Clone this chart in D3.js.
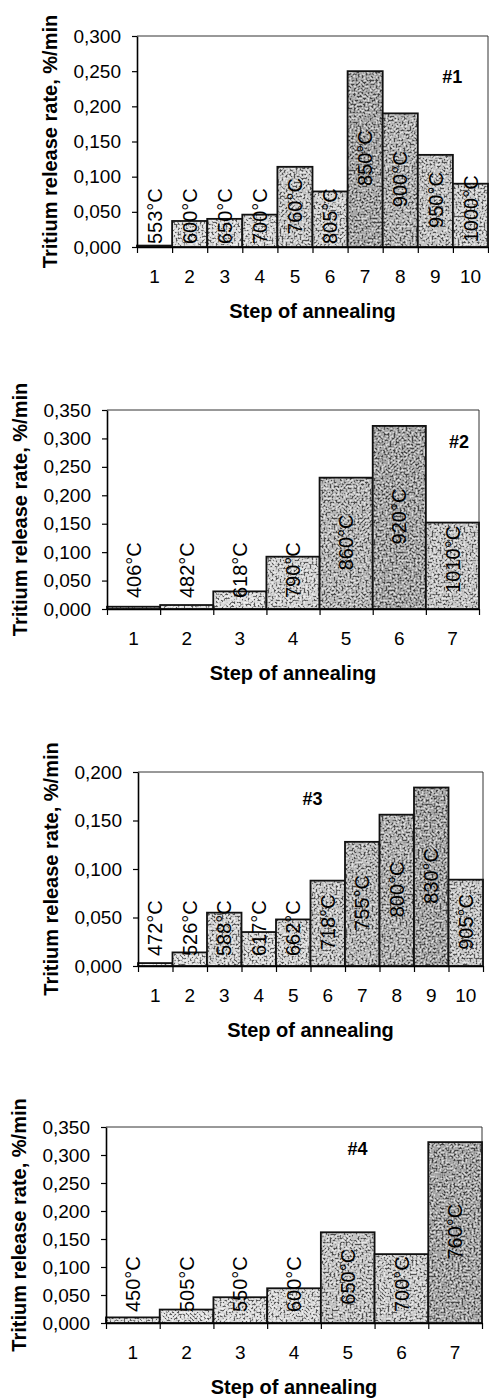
<!DOCTYPE html>
<html>
<head>
<meta charset="utf-8">
<script src="https://cdn.jsdelivr.net/npm/d3@7"></script>
<style>
  body { margin: 0; background: #fff; }
  svg { display: block; font-family: "Liberation Sans", Arial, sans-serif; }
</style>
</head>
<body>
<svg id="chart" width="489" height="1398"></svg>
<script>
// values
const steps1 = [1, 2, 3, 4, 5, 6, 7, 8, 9, 10];
const rate1 = [0.002, 0.037, 0.040, 0.046, 0.114, 0.079, 0.250, 0.190, 0.131, 0.090];
const temp1 = [553, 600, 650, 700, 760, 805, 850, 900, 950, 1000];
const yTicks1 = [0, 0.05, 0.10, 0.15, 0.20, 0.25, 0.30];

const steps2 = [1, 2, 3, 4, 5, 6, 7];
const rate2 = [0.004, 0.007, 0.031, 0.092, 0.231, 0.322, 0.152];
const temp2 = [406, 482, 618, 790, 860, 920, 1010];
const yTicks2 = [0, 0.05, 0.10, 0.15, 0.20, 0.25, 0.30, 0.35];

const steps3 = [1, 2, 3, 4, 5, 6, 7, 8, 9, 10];
const rate3 = [0.003, 0.014, 0.055, 0.035, 0.048, 0.088, 0.128, 0.156, 0.184, 0.089];
const temp3 = [472, 526, 588, 617, 662, 718, 755, 800, 830, 905];
const yTicks3 = [0, 0.05, 0.10, 0.15, 0.20];

const steps4 = [1, 2, 3, 4, 5, 6, 7];
const rate4 = [0.010, 0.024, 0.046, 0.062, 0.162, 0.123, 0.323];
const temp4 = [450, 505, 550, 600, 650, 700, 760];
const yTicks4 = [0, 0.05, 0.10, 0.15, 0.20, 0.25, 0.30, 0.35];

const yTitle = 'Tritium release rate, %/min';
const xTitle = 'Step of annealing';

// layout of the four stacked plots
const panels = [
  { tag: '#1', steps: steps1, rate: rate1, temp: temp1, ticks: yTicks1,
    box: { left: 137, right: 488, top: 36, bottom: 247 }, tagFx: 0.898, tagDy: 47, gap: 3 },
  { tag: '#2', steps: steps2, rate: rate2, temp: temp2, ticks: yTicks2,
    box: { left: 107, right: 479, top: 410, bottom: 609 }, tagFx: 0.946, tagDy: 38, gap: 11 },
  { tag: '#3', steps: steps3, rate: rate3, temp: temp3, ticks: yTicks3,
    box: { left: 138, right: 483, top: 772, bottom: 966 }, tagFx: 0.506, tagDy: 33, gap: 10 },
  { tag: '#4', steps: steps4, rate: rate4, temp: temp4, ticks: yTicks4,
    box: { left: 106, right: 482, top: 1127, bottom: 1323 }, tagFx: 0.669, tagDy: 28, gap: 11 }
];

const fmt = d3.formatLocale({ decimal: ',', thousands: ' ', grouping: [3], currency: ['', ''] }).format('.3f');

const svg = d3.select('#chart');

// speckled fill like the scanned pattern
const defs = svg.append('defs');
const flt = defs.append('filter').attr('id', 'speckle')
  .attr('x', '0%').attr('y', '0%').attr('width', '100%').attr('height', '100%');
flt.append('feTurbulence').attr('type', 'fractalNoise').attr('baseFrequency', 0.5)
  .attr('numOctaves', 2).attr('seed', 5).attr('result', 'noise');
flt.append('feColorMatrix').attr('in', 'noise').attr('type', 'matrix')
  .attr('values', '0 0 0 0 0  0 0 0 0 0  0 0 0 0 0  -6 0 0 0 2.9').attr('result', 'dark');
flt.append('feColorMatrix').attr('in', 'noise').attr('type', 'matrix')
  .attr('values', '0 0 0 0 1  0 0 0 0 1  0 0 0 0 1  6 0 0 0 -3.2').attr('result', 'light');
const merge = flt.append('feMerge').attr('result', 'both');
merge.append('feMergeNode').attr('in', 'dark');
merge.append('feMergeNode').attr('in', 'light');
flt.append('feComposite').attr('in', 'both').attr('in2', 'SourceGraphic').attr('operator', 'in');

panels.forEach(drawPanel);

function drawPanel(p) {
  const b = p.box;
  const g = svg.append('g');
  const yMax = p.ticks[p.ticks.length - 1];

  const x = d3.scaleBand().domain(p.steps).range([b.left, b.right]).padding(0);
  const xEdge = d3.scaleLinear().domain([0, p.steps.length]).range([b.left, b.right]);
  const y = d3.scaleLinear().domain([0, yMax]).range([b.bottom, b.top]);
  const shade = d3.scaleLinear().domain([0, 1]).range(['#e2e2e2', '#a6a6a6']);
  const maxV = d3.max(p.rate);

  const rows = p.steps.map((s, i) => ({ step: s, v: p.rate[i], t: p.temp[i] }));

  // frame top / right
  g.append('path')
    .attr('d', `M${b.left},${b.top}H${b.right}V${b.bottom}`)
    .attr('fill', 'none').attr('stroke', '#333').attr('stroke-width', 1);

  // bars
  const bar = g.append('g').selectAll('g').data(rows).join('g');
  bar.append('rect')
    .attr('x', d => x(d.step)).attr('width', x.bandwidth())
    .attr('y', d => y(d.v)).attr('height', d => y(0) - y(d.v))
    .attr('fill', d => shade(d.v / maxV));
  bar.append('rect')
    .attr('x', d => x(d.step)).attr('width', x.bandwidth())
    .attr('y', d => y(d.v)).attr('height', d => y(0) - y(d.v))
    .attr('fill', '#000').attr('opacity', 0.6).attr('filter', 'url(#speckle)');
  bar.append('rect')
    .attr('x', d => x(d.step)).attr('width', x.bandwidth())
    .attr('y', d => y(d.v)).attr('height', d => y(0) - y(d.v))
    .attr('fill', 'none').attr('stroke', '#111').attr('stroke-width', 1.8);

  // temperature labels, rotated
  g.append('g').selectAll('text').data(rows).join('text')
    .attr('transform', d => {
      const h = y(0) - y(d.v);
      const lift = Math.max(p.gap, h / 2 - 27);
      return `translate(${x(d.step) + x.bandwidth() / 2},${y(0) - lift}) rotate(-90)`;
    })
    .attr('dy', '0.36em')
    .attr('font-size', 20)
    .attr('fill', '#000')
    .text(d => d.t + '°C');

  // y axis
  g.append('g')
    .attr('transform', `translate(${b.left},0)`)
    .call(d3.axisLeft(y).tickValues(p.ticks).tickFormat(fmt).tickSize(5).tickSizeOuter(0).tickPadding(11))
    .call(a => a.select('.domain').attr('stroke', '#000').attr('stroke-width', 1.6))
    .call(a => a.selectAll('.tick line').attr('stroke', '#000').attr('stroke-width', 1.2))
    .call(a => a.selectAll('text').attr('font-size', 19).attr('fill', '#000')
      .attr('font-family', '"Liberation Sans", Arial, sans-serif'));

  // x axis: ticks on category edges, labels centred
  g.append('g')
    .attr('transform', `translate(0,${b.bottom})`)
    .call(d3.axisBottom(xEdge).tickValues(d3.range(p.steps.length + 1)).tickFormat('').tickSize(6).tickSizeOuter(0))
    .call(a => a.select('.domain').attr('stroke', '#000').attr('stroke-width', 1.6))
    .call(a => a.selectAll('.tick line').attr('stroke', '#000').attr('stroke-width', 1.2));
  g.append('g')
    .attr('transform', `translate(0,${b.bottom})`)
    .call(d3.axisBottom(x).tickSize(0).tickPadding(23))
    .call(a => a.select('.domain').remove())
    .call(a => a.selectAll('text').attr('font-size', 19).attr('fill', '#000')
      .attr('font-family', '"Liberation Sans", Arial, sans-serif'));

  // titles
  g.append('text')
    .attr('x', (b.left + b.right) / 2).attr('y', b.bottom + 71)
    .attr('text-anchor', 'middle').attr('font-size', 20).attr('font-weight', 'bold')
    .text(xTitle);
  g.append('text')
    .attr('transform', `translate(${b.left - 80},${(b.top + b.bottom) / 2}) rotate(-90)`)
    .attr('text-anchor', 'middle').attr('font-size', 20).attr('font-weight', 'bold')
    .text(yTitle);

  // sample tag
  g.append('text')
    .attr('x', b.left + p.tagFx * (b.right - b.left)).attr('y', b.top + p.tagDy)
    .attr('text-anchor', 'middle').attr('font-size', 18).attr('font-weight', 'bold')
    .text(p.tag);
}
</script>
</body>
</html>
